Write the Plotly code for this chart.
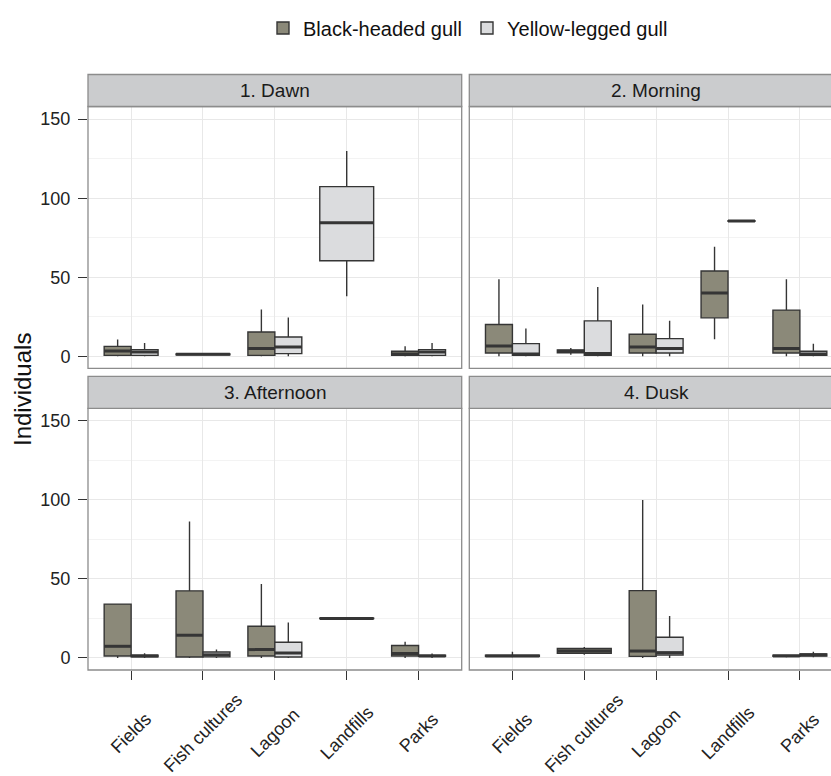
import plotly.graph_objects as go

periods = ["1. Dawn", "2. Morning", "3. Afternoon", "4. Dusk"]
habitats = ["Fields", "Fish cultures", "Lagoon", "Landfills", "Parks"]
species = ["Black-headed gull", "Yellow-legged gull"]
y_ticks = [0, 50, 100, 150]

# Five-number summaries: rows = periods, columns = habitats (None = no birds)
bhg_low = [[0, 0.5, 0, None, 0], [0, 1, 0, 10.8, 0], [0, 0, 0, None, 0], [0.5, 2, 0, None, 0.5]]
bhg_q1 = [[0.6, 1, 0.6, None, 0.6], [2.1, 2.2, 2.1, 24.3, 2.1], [1.3, 0.6, 1.3, None, 1.3], [1, 3, 1, None, 1]]
bhg_med = [[3.4, 1.3, 4.9, None, 1.5], [6.5, 3.2, 5.9, 40.1, 4.9], [7.4, 14.4, 5.3, None, 2.8], [1.3, 4.5, 4.4, None, 1.3]]
bhg_q3 = [[6.3, 1.5, 15.4, None, 3.2], [20.1, 4, 13.9, 53.9, 29.2], [34.1, 42.5, 20.1, None, 7.9], [1.8, 6, 42.6, None, 1.8]]
bhg_high = [[10.6, 2, 29.6, None, 6.3], [48.8, 5.3, 32.7, 69.3, 48.8], [34.1, 86.3, 46.8, None, 10.2], [4, 7, 100, None, 2]]

ylg_low = [[0, None, 0, 38, 0], [0, 0, 0, 85.3, 0], [0, 0, 0, 24.8, 0], [None, None, 0, None, 0.5]]
ylg_q1 = [[0.6, None, 1.7, 60.4, 0.6], [0.6, 0.6, 2.1, 85.4, 0.6], [0.8, 0.7, 0.6, 24.9, 1], [None, None, 1.9, None, 1.3]]
ylg_med = [[2.7, None, 5.9, 84.5, 2.7], [1.5, 1.7, 4.9, 85.6, 1.5], [1.3, 2, 3.2, 25, 1.3], [None, None, 3.4, None, 2]]
ylg_q3 = [[4.2, None, 12.2, 107.3, 4.2], [8, 22.4, 11.2, 85.8, 3.2], [1.8, 3.8, 10, 25.1, 1.8], [None, None, 13.1, None, 2.6]]
ylg_high = [[8.4, None, 24.5, 129.9, 8.4], [17.5, 43.9, 22.4, 85.9, 8], [3, 5.3, 22.5, 25.2, 2.8], [None, None, 26.6, None, 4]]

FW, FH = 831, 776
FONT = "Liberation Sans, Arial, sans-serif"
fills = {"Black-headed gull": "#8B8979", "Yellow-legged gull": "#DBDCDE"}
LINE = "#353535"
BORDER = "#8C8C8C"

# panel geometry (pixels)
px_left = [(88.0, 461.7), (469.3, 843.0)]
py_top = [(106.5, 368.3), (408.3, 670.0)]
strip_h = 32
unit_px = (461.7 - 88.0) / 5.2

def fx(p):
    return p / FW

def fy(p):
    return 1 - p / FH

stats = {
    "Black-headed gull": (bhg_low, bhg_q1, bhg_med, bhg_q3, bhg_high),
    "Yellow-legged gull": (ylg_low, ylg_q1, ylg_med, ylg_q3, ylg_high),
}

fig = go.Figure()
shown = set()
dodge = 0.75
for p in range(4):
    sfx = "" if p == 0 else str(p + 1)
    xa, ya = "x" + sfx, "y" + sfx
    for h in range(len(habitats)):
        present = [s for s in species if stats[s][2][p][h] is not None]
        n = len(present)
        if n == 0:
            continue
        w = dodge / n
        for k, s in enumerate(present):
            lo, q1, md, q3, hi = (arr[p][h] for arr in stats[s])
            pos = h - dodge / 2 + w * (k + 0.5)
            fig.add_trace(go.Box(
                x=[pos], q1=[q1], median=[md], q3=[q3], lowerfence=[lo], upperfence=[hi],
                width=w, fillcolor=fills[s], line=dict(color=LINE, width=1.4),
                whiskerwidth=0, name=s, legendgroup=s, showlegend=s not in shown,
                xaxis=xa, yaxis=ya, hoverinfo="skip", boxpoints=False,
            ))
            shown.add(s)
            fig.add_trace(go.Scatter(
                x=[pos - w / 2, pos + w / 2], y=[md, md], mode="lines",
                line=dict(color=LINE, width=3), showlegend=False,
                xaxis=xa, yaxis=ya, hoverinfo="skip",
            ))

shapes = []
annotations = []
layout_axes = {}
for p in range(4):
    col, row = p % 2, p // 2
    sfx = "" if p == 0 else str(p + 1)
    x0, x1 = px_left[col]
    y0, y1 = py_top[row]
    xr = [-0.6, -0.6 + (min(x1, FW) - x0) / unit_px]
    xdom = [fx(x0), min(1.0, fx(x1))]
    layout_axes["xaxis" + sfx] = dict(
        domain=xdom, range=xr, tickvals=list(range(len(habitats))),
        showticklabels=False, showgrid=True, gridcolor="#E8E8E8", gridwidth=1.2,
        zeroline=False, showline=False,
        ticks="outside" if row == 1 else "", ticklen=9, tickcolor="#333333", tickwidth=1.2,
        anchor="y" + sfx, fixedrange=True,
    )
    layout_axes["yaxis" + sfx] = dict(
        domain=[fy(y1), fy(y0)], range=[-7.6, 158], tickvals=y_ticks,
        ticktext=[str(v) for v in y_ticks], showticklabels=(col == 0),
        tickfont=dict(size=18, color="#222222", family=FONT),
        ticks="outside" if col == 0 else "", ticklen=9, tickcolor="#333333", tickwidth=1.2,
        ticklabelstandoff=4,
        showgrid=True, gridcolor="#E8E8E8", gridwidth=1.2, zeroline=False, showline=False,
        minor=dict(dtick=25, tick0=0, showgrid=True, gridcolor="#F3F3F3", gridwidth=1.2),
        anchor="x" + sfx, fixedrange=True,
    )
    # panel border
    shapes.append(dict(type="rect", xref="paper", yref="paper",
                       x0=fx(x0), x1=fx(x1), y0=fy(y1), y1=fy(y0),
                       line=dict(color=BORDER, width=1.3), fillcolor="rgba(0,0,0,0)", layer="above"))
    # strip
    shapes.append(dict(type="rect", xref="paper", yref="paper",
                       x0=fx(x0), x1=fx(x1), y0=fy(y0), y1=fy(y0 - strip_h),
                       line=dict(color=BORDER, width=1.3), fillcolor="#CBCCCE", layer="above"))
    annotations.append(dict(text=periods[p], xref="paper", yref="paper",
                            x=fx((x0 + x1) / 2), y=fy(y0 - strip_h / 2), showarrow=False,
                            xanchor="center", yanchor="middle",
                            font=dict(size=19, color="#1A1A1A", family=FONT)))
    if row == 1:
        for h, name in enumerate(habitats):
            annotations.append(dict(text=name, xref="x" + sfx, yref="paper",
                                    x=h, y=fy(733), showarrow=False, textangle=-45,
                                    xanchor="center", yanchor="middle",
                                    font=dict(size=18, color="#222222", family=FONT)))

annotations.append(dict(text="Individuals", xref="paper", yref="paper",
                        x=fx(22), y=fy(390), showarrow=False, textangle=-90,
                        xanchor="center", yanchor="middle",
                        font=dict(size=24, color="#111111", family=FONT)))

fig.update_layout(
    width=FW, height=FH, margin=dict(l=0, r=0, t=0, b=0),
    paper_bgcolor="white", plot_bgcolor="white",
    font=dict(family=FONT, color="#111111"),
    boxmode="overlay",
    showlegend=True,
    legend=dict(orientation="h", x=fx(468), xanchor="center", y=fy(28), yanchor="middle",
                font=dict(size=20, family=FONT, color="#111111"), bgcolor="rgba(0,0,0,0)",
                itemwidth=30, tracegroupgap=0),
    shapes=shapes, annotations=annotations,
    **layout_axes,
)

fig.write_html("out.html")
